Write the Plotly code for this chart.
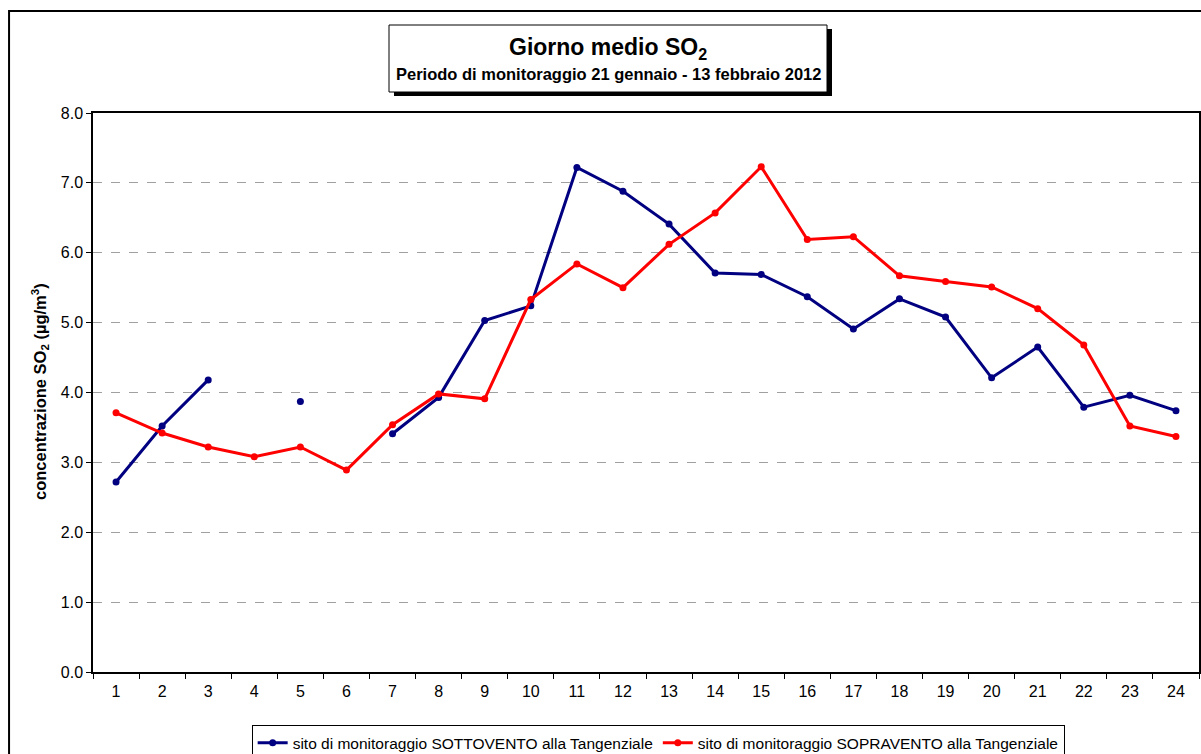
import plotly.graph_objects as go

days = [str(i) for i in range(1, 25)]
sottovento = [2.72, 3.52, 4.18, None, 3.87, None, 3.41, 3.93, 5.03, 5.24, 7.22, 6.88,
              6.41, 5.71, 5.69, 5.37, 4.91, 5.34, 5.08, 4.21, 4.65, 3.79, 3.96, 3.74]
sopravento = [3.71, 3.42, 3.22, 3.08, 3.22, 2.89, 3.54, 3.98, 3.91, 5.33, 5.84, 5.50,
              6.12, 6.57, 7.23, 6.19, 6.23, 5.67, 5.59, 5.51, 5.20, 4.68, 3.52, 3.37]
yticks = [0, 1, 2, 3, 4, 5, 6, 7, 8]
name_sotto = "sito di monitoraggio SOTTOVENTO alla Tangenziale"
name_sopra = "sito di monitoraggio SOPRAVENTO alla Tangenziale"

FONT = "Arial, Liberation Sans, sans-serif"

fig = go.Figure()
fig.add_trace(go.Scatter(x=days, y=sottovento, name=name_sotto, mode="lines+markers",
                         line=dict(color="#000080", width=3), marker=dict(size=7, color="#000080"),
                         connectgaps=False))
fig.add_trace(go.Scatter(x=days, y=sopravento, name=name_sopra, mode="lines+markers",
                         line=dict(color="#FF0000", width=3), marker=dict(size=7, color="#FF0000")))

fig.update_layout(
    width=1201, height=754,
    margin=dict(l=93, r=2, t=113, b=82, autoexpand=False),
    paper_bgcolor="white", plot_bgcolor="white",
    font=dict(family=FONT, size=16, color="black"),
    showlegend=True,
    legend=dict(orientation="h", x=0.511, xanchor="center", y=-0.095, yanchor="top",
                bordercolor="black", borderwidth=1, bgcolor="white",
                font=dict(family=FONT, size=15.5, color="black"),
                itemwidth=30, tracegroupgap=0),
    xaxis=dict(type="category", tickson="boundaries", ticks="outside", ticklen=5,
               tickcolor="black", showline=True, linecolor="black", linewidth=1.5, mirror=True,
               showgrid=False, tickfont=dict(size=16), range=[-0.5, 23.5], ticklabelstandoff=4),
    yaxis=dict(range=[0, 8], tickvals=yticks, ticktext=[f"{v:.1f}" for v in yticks],
               ticks="outside", ticklen=5, tickcolor="black", showline=True, linecolor="black",
               linewidth=1.5, mirror=True, showgrid=True, gridcolor="#A0A0A0", griddash="dash",
               gridwidth=1, zeroline=False, tickfont=dict(size=16)),
)

# outer chart border
fig.add_shape(type="rect", xref="paper", yref="paper", x0=-0.0759, y0=-0.25, x1=1.05, y1=1.1825,
              line=dict(color="black", width=2), fillcolor="rgba(0,0,0,0)", layer="below")

# title box with shadow
def px_x(p):
    return (p - 93) / 1106.0

def px_y(p):
    return (672 - p) / 559.0

fig.add_shape(type="rect", xref="paper", yref="paper", x0=px_x(394), y0=px_y(96), x1=px_x(832),
              y1=px_y(29), line=dict(width=0), fillcolor="black")
fig.add_shape(type="rect", xref="paper", yref="paper", x0=px_x(389), y0=px_y(92), x1=px_x(827),
              y1=px_y(25), line=dict(color="black", width=1), fillcolor="white")

fig.add_annotation(xref="paper", yref="paper", x=px_x(608), y=px_y(48), text="<b>Giorno medio SO<sub>2</sub></b>",
                   showarrow=False, font=dict(family=FONT, size=23, color="black"),
                   xanchor="center", yanchor="middle")
fig.add_annotation(xref="paper", yref="paper", x=px_x(608), y=px_y(74),
                   text="<b>Periodo di monitoraggio 21 gennaio - 13 febbraio 2012</b>",
                   showarrow=False, font=dict(family=FONT, size=16.5, color="black"),
                   xanchor="center", yanchor="middle")
fig.add_annotation(xref="paper", yref="paper", x=px_x(40), y=px_y(392),
                   text="<b>concentrazione SO<sub>2</sub> (µg/m<sup>3</sup>)</b>", textangle=-90,
                   showarrow=False, font=dict(family=FONT, size=16.5, color="black"),
                   xanchor="center", yanchor="middle")

fig.write_html("out.html", config={"displayModeBar": False},
               post_script="document.body.style.margin='0';document.body.style.padding='0';")
